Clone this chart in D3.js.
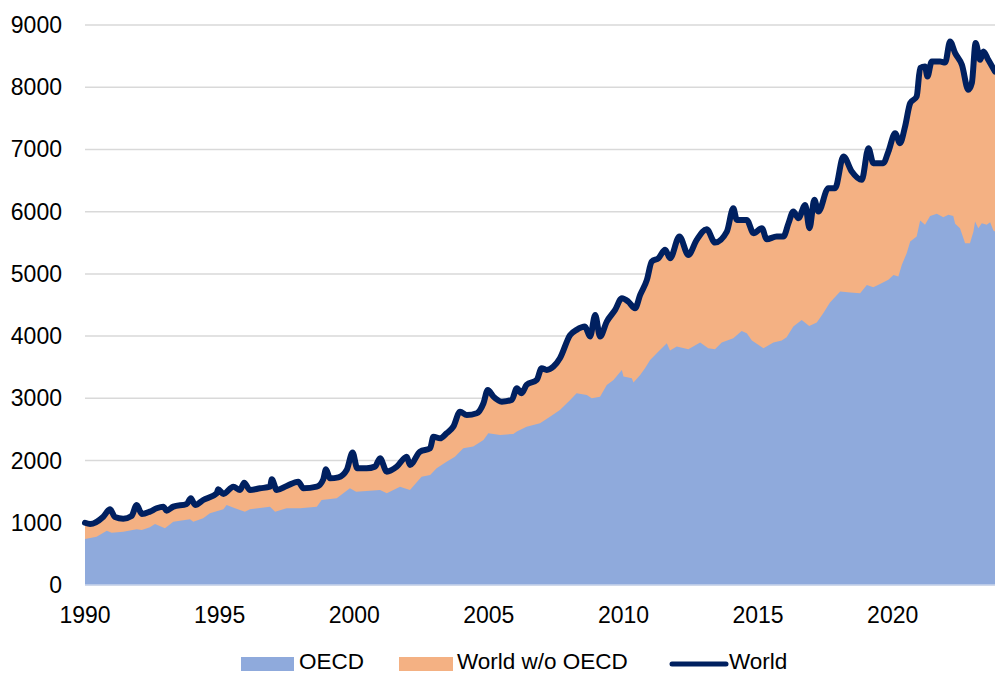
<!DOCTYPE html>
<html>
<head>
<meta charset="utf-8">
<script src="https://cdn.jsdelivr.net/npm/d3@7"></script>
<style>
  body { margin: 0; background: #fff; }
  text { font-family: "Liberation Sans", Arial, sans-serif; fill: #000; }
</style>
</head>
<body>
<svg id="chart" width="995" height="675"></svg>
<script>
// DATA (decimal years)
const worldYears = [1990.0,1990.19,1990.68,1990.93,1991.11,1991.42,1991.73,1991.92,1992.11,1992.41,1992.66,1992.91,1993.03,1993.28,1993.78,1993.93,1994.09,1994.39,1994.89,1994.95,1995.14,1995.51,1995.76,1995.91,1996.13,1996.5,1996.87,1996.94,1997.12,1997.49,1997.92,1998.11,1998.61,1998.85,1998.95,1999.1,1999.41,1999.72,1999.94,2000.11,2000.46,2000.77,2000.96,2001.21,2001.58,2001.95,2002.07,2002.44,2002.82,2002.94,2003.19,2003.43,2003.68,2003.93,2004.18,2004.55,2004.8,2004.96,2005.17,2005.48,2005.85,2006.04,2006.22,2006.4,2006.78,2006.96,2007.15,2007.4,2007.64,2008.02,2008.26,2008.57,2008.76,2008.95,2009.13,2009.38,2009.69,2009.94,2010.18,2010.43,2010.62,2010.87,2011.05,2011.3,2011.55,2011.73,2012.08,2012.41,2012.72,2013.09,2013.4,2013.84,2014.08,2014.21,2014.58,2014.83,2015.14,2015.32,2015.69,2015.94,2016.13,2016.31,2016.5,2016.75,2016.91,2017.09,2017.24,2017.61,2017.86,2018.17,2018.48,2018.85,2019.1,2019.28,2019.65,2019.84,2020.09,2020.27,2020.46,2020.65,2020.89,2021.02,2021.2,2021.29,2021.45,2021.76,2021.95,2022.13,2022.32,2022.57,2022.81,2022.94,2023.08,2023.25,2023.37,2023.55,2023.8];
const worldValues = [1000,980,1098,1217,1093,1066,1109,1286,1141,1179,1233,1259,1195,1259,1302,1393,1286,1366,1474,1538,1463,1580,1527,1645,1527,1554,1580,1698,1527,1591,1661,1554,1580,1698,1859,1714,1730,1848,2130,1875,1875,1902,2036,1822,1902,2063,1929,2143,2197,2384,2358,2439,2545,2786,2733,2760,2921,3135,3027,2947,2974,3162,3082,3215,3296,3484,3457,3510,3645,4019,4100,4153,3992,4341,3992,4233,4421,4609,4555,4448,4662,4904,5198,5252,5386,5252,5600,5305,5547,5718,5504,5680,6056,5868,5868,5654,5734,5557,5600,5600,5814,6002,5895,6109,5734,6190,6002,6378,6378,6887,6645,6511,7021,6780,6780,6966,7262,7101,7369,7744,7851,8307,8333,8172,8413,8413,8397,8735,8548,8360,7958,8066,8709,8441,8574,8441,8253];

const oecdYears = [1990.0,1990.43,1990.81,1990.99,1991.42,1991.92,1992.11,1992.41,1992.6,1992.97,1993.28,1993.9,1994.02,1994.39,1994.64,1995.14,1995.26,1995.57,1995.94,1996.13,1996.87,1997.06,1997.49,1997.99,1998.61,1998.79,1999.35,1999.84,2000.07,2000.96,2001.21,2001.7,2002.07,2002.5,2002.82,2003.06,2003.43,2003.74,2004.05,2004.42,2004.8,2004.98,2005.42,2005.91,2006.04,2006.4,2006.9,2007.27,2007.64,2008.02,2008.26,2008.64,2008.82,2009.13,2009.38,2009.63,2009.94,2010.0,2010.31,2010.37,2010.62,2010.8,2010.99,2011.3,2011.61,2011.73,2011.98,2012.41,2012.85,2013.15,2013.4,2013.65,2014.08,2014.39,2014.58,2014.77,2015.2,2015.57,2015.88,2016.06,2016.31,2016.62,2016.9,2017.18,2017.42,2017.67,2018.05,2018.42,2018.79,2019.04,2019.28,2019.53,2019.84,2020.03,2020.21,2020.34,2020.52,2020.65,2020.89,2021.02,2021.2,2021.39,2021.64,2021.88,2022.07,2022.25,2022.32,2022.5,2022.69,2022.87,2023.0,2023.06,2023.18,2023.31,2023.49,2023.62,2023.74,2023.8];
const oecdValues = [740,777,873,841,857,895,884,927,980,911,1018,1056,1018,1072,1152,1217,1286,1233,1179,1217,1259,1179,1233,1233,1259,1366,1393,1554,1500,1527,1474,1580,1527,1741,1768,1875,1982,2063,2197,2224,2331,2439,2411,2428,2465,2545,2599,2706,2813,2974,3082,3055,3001,3027,3215,3296,3457,3349,3323,3253,3376,3484,3617,3751,3886,3767,3832,3789,3896,3805,3789,3896,3966,4083,4046,3928,3805,3896,3928,3982,4153,4260,4164,4217,4368,4539,4716,4700,4689,4823,4786,4839,4904,4984,4957,5145,5332,5520,5600,5857,5788,5932,5965,5911,5949,5932,5804,5734,5493,5493,5680,5841,5734,5815,5788,5830,5696,5680];

const yTicks = [0,1000,2000,3000,4000,5000,6000,7000,8000,9000];
const xTicks = [1990,1995,2000,2005,2010,2015,2020];
const seriesNames = ["OECD", "World w/o OECD", "World"];

const colors = { oecd: "#8FAADC", rest: "#F4B183", world: "#002060", grid: "#D9D9D9" };

const world = worldYears.map((t, i) => ({ t, v: worldValues[i] }));
const oecd = oecdYears.map((t, i) => ({ t, v: oecdValues[i] }));

const svg = d3.select("#chart");

const x = d3.scaleLinear().domain([1990, 2023.8]).range([85, 995]);
const y = d3.scaleLinear().domain([0, 9000]).range([585, 25]);

// gridlines
svg.append("g").selectAll("line")
    .data(yTicks)
    .enter().append("line")
    .attr("x1", 85).attr("x2", 995)
    .attr("y1", d => y(d)).attr("y2", d => y(d))
    .attr("stroke", colors.grid)
    .attr("stroke-width", 1.5);

// areas: orange up to World, blue OECD on top -> stacked look
svg.append("path")
    .datum(world)
    .attr("d", d3.area().x(d => x(d.t)).y0(y(0)).y1(d => y(d.v)))
    .attr("fill", colors.rest);

svg.append("path")
    .datum(oecd)
    .attr("d", d3.area().x(d => x(d.t)).y0(y(0)).y1(d => y(d.v)))
    .attr("fill", colors.oecd);

// zero axis line
svg.append("line")
    .attr("x1", 85).attr("x2", 995)
    .attr("y1", y(0)).attr("y2", y(0))
    .attr("stroke", "#C9D5EC").attr("stroke-width", 1.5);

// World line
svg.append("path")
    .datum(world)
    .attr("d", d3.line().x(d => x(d.t)).y(d => y(d.v)).curve(d3.curveMonotoneX))
    .attr("fill", "none")
    .attr("stroke", colors.world)
    .attr("stroke-width", 6)
    .attr("stroke-linejoin", "round")
    .attr("stroke-linecap", "round");

// y labels
svg.append("g").selectAll("text")
    .data(yTicks)
    .enter().append("text")
    .attr("x", 62).attr("y", d => y(d))
    .attr("dy", "0.35em")
    .attr("text-anchor", "end")
    .style("font-size", "23px")
    .text(d => d);

// x labels
svg.append("g").selectAll("text")
    .data(xTicks)
    .enter().append("text")
    .attr("x", d => x(d)).attr("y", 623)
    .attr("text-anchor", "middle")
    .style("font-size", "23px")
    .text(d => d);

// legend
const lg = svg.append("g");
lg.append("rect").attr("x", 241).attr("y", 657).attr("width", 53).attr("height", 14).attr("fill", colors.oecd);
lg.append("text").attr("x", 299).attr("y", 669).style("font-size", "22.5px").text(seriesNames[0]);
lg.append("rect").attr("x", 399).attr("y", 657).attr("width", 54).attr("height", 14).attr("fill", colors.rest);
lg.append("text").attr("x", 457).attr("y", 669).style("font-size", "22.5px").text(seriesNames[1]);
lg.append("line").attr("x1", 672).attr("x2", 726).attr("y1", 664).attr("y2", 664)
    .attr("stroke", colors.world).attr("stroke-width", 5).attr("stroke-linecap", "round");
lg.append("text").attr("x", 729).attr("y", 669).style("font-size", "22.5px").text(seriesNames[2]);
</script>
</body>
</html>
